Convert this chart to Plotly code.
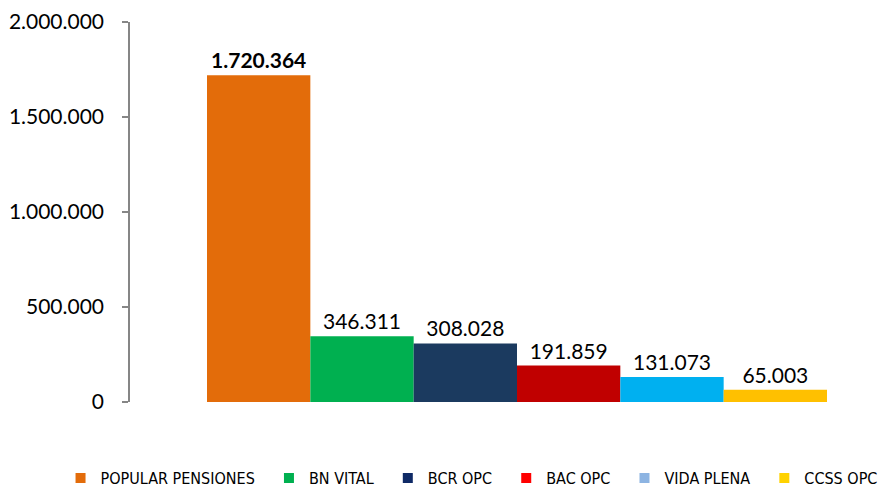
import plotly.graph_objects as go

categories = ["POPULAR PENSIONES", "BN VITAL", "BCR OPC", "BAC OPC", "VIDA PLENA", "CCSS OPC"]
values = [1720364, 346311, 308028, 191859, 131073, 65003]
bar_colors = ["#E36C0A", "#00B050", "#1B3A5F", "#C00000", "#00B0F0", "#FFC000"]
legend_colors = ["#E36C0A", "#00B050", "#0F2A66", "#FF0000", "#8DB4E2", "#FFD200"]
y_ticks = [0, 500000, 1000000, 1500000, 2000000]

fig = go.Figure()

for i, (cat, val, col) in enumerate(zip(categories, values, bar_colors)):
    tmpl = "<b>%{y:,}</b>" if i == 0 else "%{y:,}"
    fig.add_trace(go.Bar(
        x=[cat], y=[val], width=1.0,
        marker=dict(color=col, line=dict(width=0)),
        texttemplate=tmpl, textposition="outside", cliponaxis=False,
        textfont=dict(family="Lato", size=21, color="#000000"),
        showlegend=False, hoverinfo="skip",
    ))

pad = "\u00a0" * 2
for j, (cat, col) in enumerate(zip(categories, legend_colors)):
    label = cat + (pad if j < len(categories) - 1 else "")
    fig.add_trace(go.Scatter(
        x=[None], y=[None], mode="markers", name=label,
        marker=dict(symbol="square", size=10, color=col),
    ))

fig.update_layout(
    width=885, height=489,
    margin=dict(l=130, r=0, t=22, b=87, autoexpand=False),
    paper_bgcolor="white", plot_bgcolor="white",
    barmode="overlay",
    separators=",.",
    font=dict(family="Lato", size=21, color="#000000"),
    xaxis=dict(type="category", categoryorder="array", categoryarray=categories,
               range=[-1.2452, 6.0613], visible=False, showgrid=False, zeroline=False,
               automargin=False),
    yaxis=dict(range=[0, 2000000], tickvals=y_ticks, tickformat=",d",
               showgrid=False, zeroline=False, automargin=False,
               showline=True, linecolor="#868686", linewidth=1.5,
               ticks="outside", ticklen=6, tickwidth=1.5, tickcolor="#868686",
               ticklabelstandoff=14,
               tickfont=dict(family="Lato", size=21, color="#000000")),
    legend=dict(orientation="h",
                x=-0.092, xanchor="left", y=-0.2, yanchor="middle",
                font=dict(family="Liberation Sans Narrow, DejaVu Sans Condensed, Arial Narrow, sans-serif",
                          size=16, color="#000000"),
                itemwidth=30, tracegroupgap=0, bgcolor="rgba(0,0,0,0)"),
)

fig.write_html("out.html", config={"displayModeBar": False},
               post_script="document.body.style.margin='0';document.body.style.padding='0';")
